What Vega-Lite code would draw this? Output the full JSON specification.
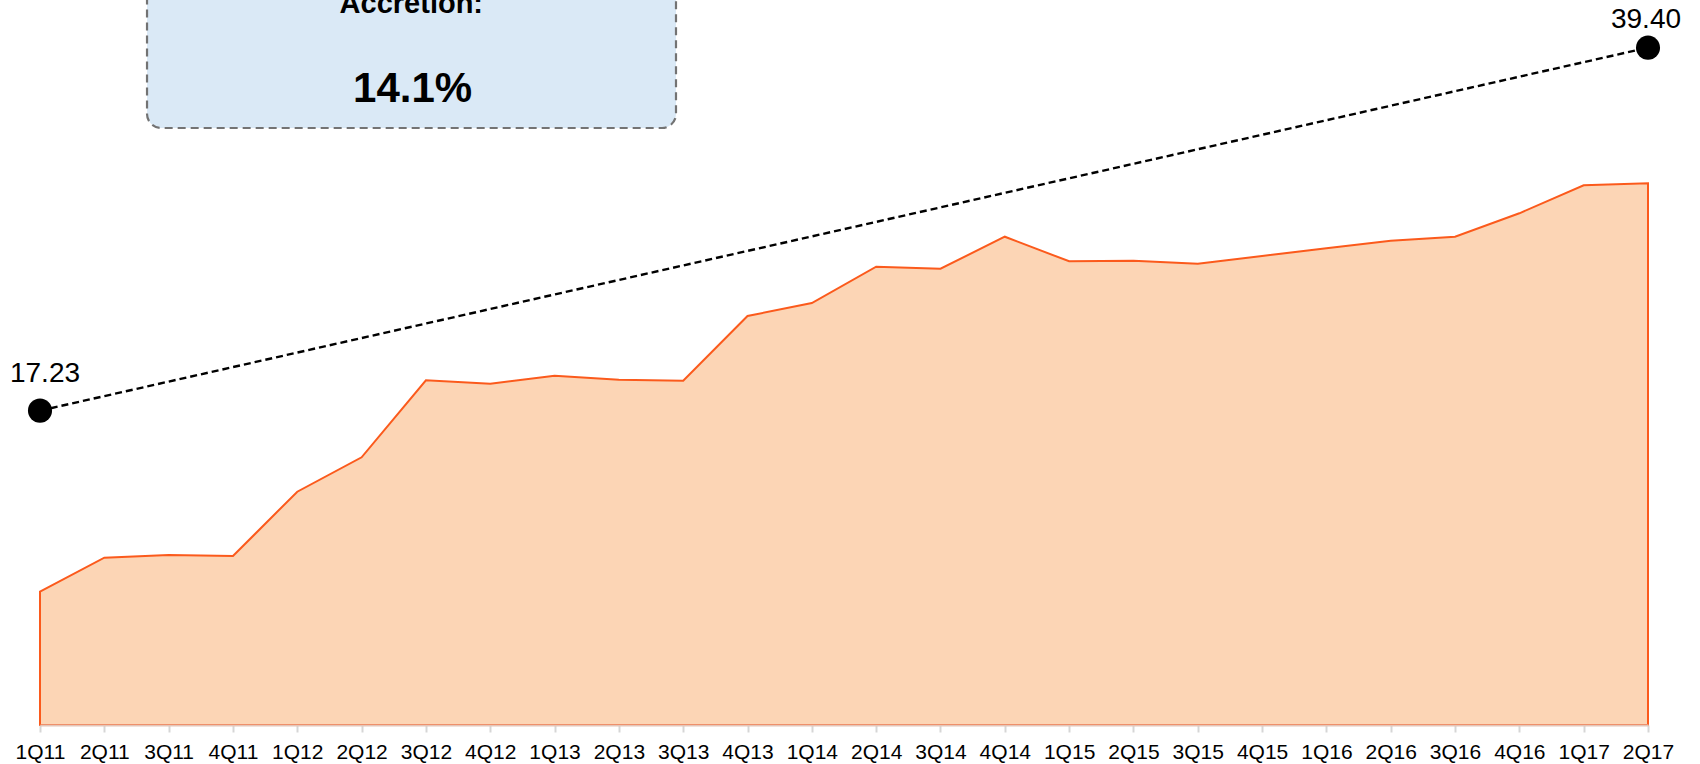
{
  "$schema": "https://vega.github.io/schema/vega-lite/v6.json",
  "width": 1608,
  "height": 725,
  "autosize": {"type": "none"},
  "padding": {"left": 40, "top": 0, "right": 52, "bottom": 39},
  "config": {"view": {"stroke": null}, "font": "Liberation Sans"},
  "datasets": {
    "series": [
      {"q": "1Q11", "v": 13.33},
      {"q": "2Q11", "v": 16.73},
      {"q": "3Q11", "v": 17.0},
      {"q": "4Q11", "v": 16.9},
      {"q": "1Q12", "v": 23.33},
      {"q": "2Q12", "v": 26.77},
      {"q": "3Q12", "v": 34.47},
      {"q": "4Q12", "v": 34.13},
      {"q": "1Q13", "v": 34.93},
      {"q": "2Q13", "v": 34.53},
      {"q": "3Q13", "v": 34.43},
      {"q": "4Q13", "v": 40.9},
      {"q": "1Q14", "v": 42.2},
      {"q": "2Q14", "v": 45.83},
      {"q": "3Q14", "v": 45.63},
      {"q": "4Q14", "v": 48.83},
      {"q": "1Q15", "v": 46.37},
      {"q": "2Q15", "v": 46.43},
      {"q": "3Q15", "v": 46.13},
      {"q": "4Q15", "v": 46.9},
      {"q": "1Q16", "v": 47.67},
      {"q": "2Q16", "v": 48.43},
      {"q": "3Q16", "v": 48.83},
      {"q": "4Q16", "v": 51.17},
      {"q": "1Q17", "v": 53.97},
      {"q": "2Q17", "v": 54.17}
    ],
    "cagr": [
      {"q": "1Q11", "value": 17.23, "label": "17.23"},
      {"q": "2Q17", "value": 39.40, "label": "39.40"}
    ],
    "box": [
      {"x0": 1.664, "x1": 9.888, "y0": 59.7, "y1": 80}
    ],
    "boxtext": [
      {"xc": 5.773, "yv": 71.17, "text": "Accretion:"},
      {"xc": 5.794, "yv": 62.33, "text": "14.1%"}
    ]
  },
  "layer": [
    {
      "layer": [
        {
          "data": {"name": "series"},
          "mark": {"type": "area", "fill": "#fcd5b5", "stroke": "#fb5a1c", "strokeWidth": 2},
          "encoding": {
            "x": {
              "field": "q", "type": "ordinal", "sort": null,
              "scale": {"type": "point", "padding": 0},
              "axis": {
                "title": null, "labelAngle": 0, "labelFont": "Liberation Sans",
                "labelFontSize": 21, "labelColor": "#000000", "labelPadding": 9,
                "tickColor": "#d6d6d6", "tickSize": 7, "tickWidth": 2,
                "domainColor": "#e3c6b9", "domainWidth": 2, "zindex": 1, "grid": false
              }
            },
            "y": {
              "field": "v", "type": "quantitative",
              "scale": {"domain": [0, 72.5], "nice": false, "zero": false},
              "axis": null
            }
          }
        },
        {
          "data": {"name": "cagr"},
          "encoding": {
            "x": {"field": "q", "type": "ordinal", "sort": null},
            "y": {
              "field": "value", "type": "quantitative",
              "scale": {"domain": [-1.97, 42.31], "nice": false, "zero": false},
              "axis": null
            }
          },
          "layer": [
            {"mark": {"type": "line", "color": "#000000", "strokeWidth": 2.4, "strokeDash": [7, 4]}},
            {"mark": {"type": "circle", "color": "#000000", "opacity": 1, "size": 580}},
            {
              "transform": [{"filter": "datum.q === '1Q11'"}],
              "mark": {"type": "text", "fontSize": 28, "font": "Liberation Sans", "color": "#000000", "dx": 5, "dy": -29, "baseline": "alphabetic", "align": "center"},
              "encoding": {"text": {"field": "label"}}
            },
            {
              "transform": [{"filter": "datum.q === '2Q17'"}],
              "mark": {"type": "text", "fontSize": 28, "font": "Liberation Sans", "color": "#000000", "dx": -2, "dy": -19.5, "baseline": "alphabetic", "align": "center"},
              "encoding": {"text": {"field": "label"}}
            }
          ]
        }
      ],
      "resolve": {"scale": {"y": "independent"}}
    },
    {
      "layer": [
        {
          "data": {"name": "box"},
          "mark": {"type": "rect", "fill": "#dae9f6", "stroke": "#737373", "strokeWidth": 2.2, "strokeDash": [8, 5], "cornerRadius": 14},
          "encoding": {
            "x": {"field": "x0", "type": "quantitative", "scale": {"domain": [0, 25], "nice": false, "zero": false}, "axis": null},
            "x2": {"field": "x1"},
            "y": {"field": "y0", "type": "quantitative", "scale": {"domain": [0, 72.5], "nice": false, "zero": false}, "axis": null},
            "y2": {"field": "y1"}
          }
        },
        {
          "data": {"name": "boxtext"},
          "transform": [{"filter": "datum.text === 'Accretion:'"}],
          "mark": {"type": "text", "fontSize": 29, "fontWeight": "bold", "font": "Liberation Sans", "color": "#000000", "baseline": "alphabetic", "align": "center"},
          "encoding": {
            "x": {"field": "xc", "type": "quantitative"},
            "y": {"field": "yv", "type": "quantitative"},
            "text": {"field": "text"}
          }
        },
        {
          "data": {"name": "boxtext"},
          "transform": [{"filter": "datum.text === '14.1%'"}],
          "mark": {"type": "text", "fontSize": 42, "fontWeight": "bold", "font": "Liberation Sans", "color": "#000000", "baseline": "alphabetic", "align": "center"},
          "encoding": {
            "x": {"field": "xc", "type": "quantitative"},
            "y": {"field": "yv", "type": "quantitative"},
            "text": {"field": "text"}
          }
        }
      ]
    }
  ],
  "resolve": {"scale": {"x": "independent", "y": "independent"}}
}
